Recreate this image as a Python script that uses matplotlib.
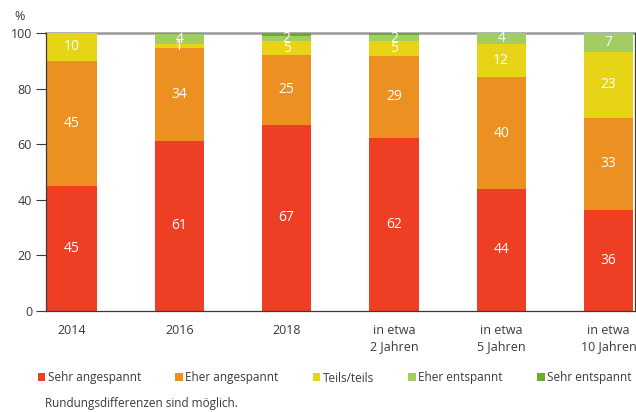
import numpy as np
import matplotlib
matplotlib.use("Agg")
import matplotlib.pyplot as plt
from matplotlib.patches import Patch

categories = ["2014", "2016", "2018", "in etwa\n2 Jahren", "in etwa\n5 Jahren", "in etwa\n10 Jahren"]
series_names = ["Sehr angespannt", "Eher angespannt", "Teils/teils", "Eher entspannt", "Sehr entspannt"]
# shares in % (labels are the rounded values)
sehr_angespannt = [45, 61.2, 67, 62.4, 44, 36.4]
eher_angespannt = [45, 33.5, 25, 29.4, 40, 33.2]
teils_teils = [10, 1.2, 5, 5.3, 12, 23.4]
eher_entspannt = [0, 3.6, 2, 2.1, 4, 7.0]
sehr_entspannt = [0, 0.5, 1, 0.8, 0, 0]
labeled = [True, True, True, True, False]

colors = ["#ee3e23", "#ec9022", "#e8d417", "#a2cd62", "#6fa832"]
text_col = "#3a3a3a"

plt.rcParams["font.family"] = ["Open Sans", "DejaVu Sans"]
fig = plt.figure(figsize=(6.36, 4.12), dpi=100)
ax = fig.add_axes([46/636, 1-311/412, 589/636, 278/412])

x = np.arange(len(categories))
data = [sehr_angespannt, eher_angespannt, teils_teils, eher_entspannt, sehr_entspannt]
bottom = np.zeros(len(categories))
for vals, col, lab in zip(data, colors, labeled):
    vals = np.array(vals, dtype=float)
    ax.bar(x, vals, bottom=bottom, width=0.46, color=col, linewidth=0, zorder=2)
    if lab:
        for xi, b, v in zip(x, bottom, vals):
            if v > 0:
                ax.text(xi, b + v/2, str(int(v + 0.5)), ha="center", va="center",
                        color="white", fontsize=10, zorder=3)
    bottom += vals

ax.set_xlim(-0.242, 5.247)
ax.set_ylim(0, 100)
ax.set_yticks(range(0, 101, 20))
ax.set_xticks(x)
ax.set_xticklabels(categories, linespacing=1.35)
ax.tick_params(axis="x", length=0, pad=9, labelsize=9, colors=text_col)
ax.tick_params(axis="y", length=7, width=0.8, color=text_col, labelsize=9, labelcolor=text_col, pad=3)
for s in ["left", "bottom", "right"]:
    ax.spines[s].set_color(text_col)
    ax.spines[s].set_linewidth(0.9)
ax.spines["top"].set_visible(False)
ax.axhline(100, color="#999999", linewidth=1.8, zorder=1, clip_on=False)
ax.text(-26/589, 1.06, "%", transform=ax.transAxes, ha="center", va="center",
        fontsize=9, color=text_col)

handles = [Patch(facecolor=c, edgecolor="none") for c in colors]
fig.legend(handles, series_names, loc="center left", bbox_to_anchor=(33/636, 1-378/412),
           ncol=5, frameon=False, handlelength=0.65, handleheight=0.65, handletextpad=0.2,
           columnspacing=2.9, fontsize=8.5, labelcolor=text_col, borderaxespad=0)
fig.text(45/636, 1-404/412, "Rundungsdifferenzen sind möglich.", ha="left", va="center",
         fontsize=8.5, color=text_col)

fig.savefig("out.png", dpi=100)
